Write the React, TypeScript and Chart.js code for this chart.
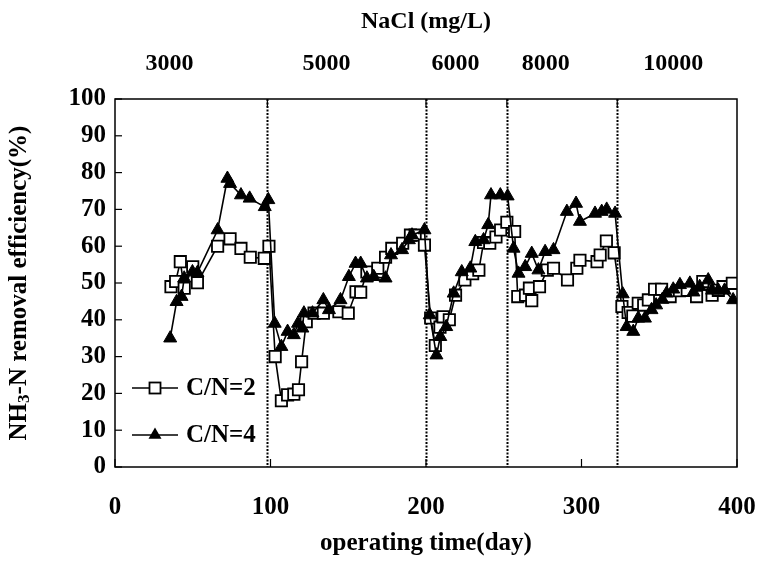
import React, { useEffect, useRef } from "react";
import { Chart, registerables } from "chart.js";

Chart.register(...registerables);

const FONT = '"Liberation Serif", "Times New Roman", serif';

// C/N = 2 (open squares)
const days2 = [36, 39, 42, 44.5, 50, 53, 66, 74, 81, 87, 96, 99,
  103, 107, 111, 115, 118, 120, 123, 128, 134, 144, 150, 155, 158, 162, 169, 174, 178, 185, 190, 193, 199,
  203, 206, 209, 211, 215, 219, 225, 230, 234, 237, 241, 245, 248, 252, 257,
  259, 264, 266.5, 268, 273, 278, 282, 291, 297, 299, 310, 312, 316, 321,
  326, 330, 333, 336.5, 340, 343, 347, 351.5, 357, 363, 368, 374, 378, 384, 388, 391, 397];
const eff2 = [49, 50.4, 55.8, 48.6, 54.4, 50.1, 60, 62, 59.4, 57, 56.7, 60,
  30, 18, 19.6, 19.8, 21, 28.6, 39.5, 41.8, 41.8, 42.2, 41.8, 47.6, 47.5, 53, 54, 57, 59.4, 60.8, 63, 63, 60.3,
  40.5, 33, 38, 40.8, 40, 46.7, 50.8, 52.5, 53.5, 61, 60.8, 62.5, 64.4, 66.5, 64,
  46.3, 46.7, 48.6, 45.2, 49, 53.5, 54, 50.8, 54, 56.2, 55.8, 57.6, 61.4, 58.2,
  43.6, 42, 41, 44.5, 44, 45.4, 48.3, 48.3, 46.3, 47.9, 48, 46.3, 50.4, 46.7, 48, 49, 49.9];

// C/N = 4 (filled triangles)
const days4 = [35.5, 39.6, 42.8, 44.5, 49.8, 53, 66, 72.3, 74, 81, 86.6, 96.3, 98.6,
  102.7, 107, 111, 115, 117.7, 120.5, 121.5, 127, 134, 137.6, 145, 150.4, 154.7, 158, 162, 166.4, 174, 177.5, 184.6, 189, 191, 199,
  202.4, 206.7, 209.2, 213, 217.8, 223, 228.5, 231.7, 237, 240, 241.8, 247.8, 252.5,
  256.3, 259.5, 263.8, 268, 272.3, 276.6, 282, 290.6, 296.5, 299, 308.7, 313, 316.2, 321.6,
  326.5, 329, 333.3, 336.5, 340.8, 345, 348, 352, 354.7, 359, 363.3, 369.7, 372, 376, 381.5, 384, 388, 392, 397.5];
const eff4 = [35, 44.9, 46.3, 51.3, 53, 52.8, 64.4, 78.4, 77, 73.9, 73, 70.7, 72.6,
  39, 32.7, 36.8, 35.9, 39, 37.7, 41.8, 41.8, 45.4, 42.7, 45.4, 51.7, 55.3, 55.3, 51.3, 51.7, 51.3, 57.6, 59, 61.7, 63, 64.4,
  41.3, 30.4, 35.4, 38.1, 47.2, 53, 54, 61.2, 61.7, 65.8, 73.9, 73.9, 73.6,
  59.4, 52.6, 54.4, 58, 53.5, 58.5, 59, 69.4, 71.6, 66.7, 68.9, 69.4, 70, 68.9,
  47, 38.1, 36.8, 40.4, 40.4, 42.7, 44, 45.5, 47.2, 48.3, 49.5, 49.9, 47.5, 49, 50.8, 48, 48, 48, 45.4];

const seriesLabels = ["C/N=2", "C/N=4"];
const xTickValues = [0, 100, 200, 300, 400];
const phaseBoundaries = [98, 200, 252, 323];
const naclLabels = ["3000", "5000", "6000", "8000", "10000"];
const naclLabelDays = [35, 136, 219, 277, 359];
const topTitle = "NaCl (mg/L)";
const xTitle = "operating time(day)";

const framePlugin = {
  id: "framePlugin",
  beforeDatasetsDraw(chart: any) {
    const { ctx, chartArea, scales } = chart;
    ctx.save();
    ctx.strokeStyle = "#000";
    ctx.lineWidth = 2;
    ctx.setLineDash([2, 1.5]);
    phaseBoundaries.forEach((d) => {
      const x = Math.round(scales.x.getPixelForValue(d)) + 0.5;
      ctx.beginPath();
      ctx.moveTo(x, chartArea.top);
      ctx.lineTo(x, chartArea.bottom);
      ctx.stroke();
    });
    ctx.restore();
  },
  afterDraw(chart: any) {
    const { ctx, chartArea, scales } = chart;
    const { left, right, top, bottom } = chartArea;
    ctx.save();
    ctx.strokeStyle = "#000";
    ctx.lineWidth = 1.5;
    ctx.setLineDash([]);
    ctx.strokeRect(left, top, right - left, bottom - top);
    // inner ticks
    ctx.lineWidth = 1.2;
    scales.y.ticks.forEach((t: any) => {
      const y = scales.y.getPixelForValue(t.value);
      ctx.beginPath();
      ctx.moveTo(left, y);
      ctx.lineTo(left + 7, y);
      ctx.stroke();
    });
    xTickValues.forEach((v) => {
      const x = scales.x.getPixelForValue(v);
      ctx.beginPath();
      ctx.moveTo(x, bottom);
      ctx.lineTo(x, bottom - 8);
      ctx.stroke();
    });
    phaseBoundaries.forEach((d) => {
      const x = scales.x.getPixelForValue(d);
      ctx.beginPath();
      ctx.moveTo(x, top);
      ctx.lineTo(x, top + 8);
      ctx.stroke();
    });
    // top labels
    ctx.fillStyle = "#000";
    ctx.textAlign = "center";
    ctx.textBaseline = "middle";
    ctx.font = `bold 24px ${FONT}`;
    ctx.fillText(topTitle, (left + right) / 2, 22);
    naclLabels.forEach((lab, i) => {
      ctx.fillText(lab, scales.x.getPixelForValue(naclLabelDays[i]), 64);
    });
    // y title with subscript
    ctx.save();
    ctx.translate(20, (top + bottom) / 2);
    ctx.rotate(-Math.PI / 2);
    const big = `bold 25px ${FONT}`;
    const small = `bold 17px ${FONT}`;
    const parts = [
      { t: "NH", f: big, dy: 0 },
      { t: "3", f: small, dy: 5 },
      { t: "-N removal efficiency(%)", f: big, dy: 0 },
    ];
    let total = 0;
    parts.forEach((p) => { ctx.font = p.f; total += ctx.measureText(p.t).width; });
    let cx = -total / 2;
    ctx.textAlign = "left";
    parts.forEach((p) => {
      ctx.font = p.f;
      ctx.fillText(p.t, cx, p.dy);
      cx += ctx.measureText(p.t).width;
    });
    ctx.restore();
    // legend
    const legendY = [388, 435];
    chart.data.datasets.forEach((ds: any, i: number) => {
      const y = legendY[i];
      ctx.strokeStyle = "#000";
      ctx.lineWidth = 1.6;
      ctx.beginPath();
      ctx.moveTo(132, y);
      ctx.lineTo(178, y);
      ctx.stroke();
      const mx = 155;
      if (ds.pointStyle === "rect") {
        ctx.fillStyle = "#fff";
        ctx.fillRect(mx - 5.5, y - 5.5, 11, 11);
        ctx.lineWidth = 1.8;
        ctx.strokeRect(mx - 5.5, y - 5.5, 11, 11);
      } else {
        ctx.fillStyle = "#000";
        ctx.beginPath();
        ctx.moveTo(mx, y - 7.5);
        ctx.lineTo(mx + 6.5, y + 3.75);
        ctx.lineTo(mx - 6.5, y + 3.75);
        ctx.closePath();
        ctx.fill();
      }
      ctx.fillStyle = "#000";
      ctx.font = `bold 25px ${FONT}`;
      ctx.textAlign = "left";
      ctx.textBaseline = "middle";
      ctx.fillText(ds.label, 186, y + 1);
    });
    ctx.restore();
  },
};

export default function App() {
  const ref = useRef<HTMLCanvasElement | null>(null);
  useEffect(() => {
    document.body.style.margin = "0";
    const canvas = ref.current;
    if (!canvas) return;
    const tickFont = { family: FONT, size: 25, weight: "bold" as const };
    const chart = new Chart(canvas, {
      type: "line",
      data: {
        datasets: [
          {
            label: seriesLabels[0],
            data: days2.map((d, i) => ({ x: d, y: eff2[i] })),
            borderColor: "#000",
            borderWidth: 1.6,
            pointStyle: "rect",
            pointRadius: 8,
            pointBackgroundColor: "#fff",
            pointBorderColor: "#000",
            pointBorderWidth: 1.8,
            tension: 0,
            order: 1,
          },
          {
            label: seriesLabels[1],
            data: days4.map((d, i) => ({ x: d, y: eff4[i] })),
            borderColor: "#000",
            borderWidth: 1.6,
            pointStyle: "triangle",
            pointRadius: 7.5,
            pointBackgroundColor: "#000",
            pointBorderColor: "#000",
            pointBorderWidth: 1,
            tension: 0,
            order: 0,
          },
        ],
      },
      options: {
        animation: false,
        responsive: false,
        devicePixelRatio: 1,
        layout: { padding: { top: 99, right: 24, left: 0, bottom: 0 } },
        plugins: { legend: { display: false }, tooltip: { enabled: false } },
        scales: {
          x: {
            type: "linear",
            min: 0,
            max: 400,
            afterFit: (s: any) => { s.height = 96; s.paddingLeft = 0; s.paddingRight = 0; },
            afterBuildTicks: (s: any) => { s.ticks = xTickValues.map((v) => ({ value: v })); },
            ticks: { font: tickFont, color: "#000", padding: 26, maxRotation: 0, autoSkip: false },
            grid: { display: false, drawTicks: false },
            border: { display: false },
            title: { display: true, text: xTitle, font: tickFont, color: "#000", padding: { top: 0, bottom: 4 } },
          },
          y: {
            min: 0,
            max: 100,
            afterFit: (s: any) => { s.width = 115; s.paddingTop = 0; s.paddingBottom = 0; },
            ticks: { stepSize: 10, font: tickFont, color: "#000", padding: 9 },
            grid: { display: false, drawTicks: false },
            border: { display: false },
          },
        },
      },
      plugins: [framePlugin],
    } as any);
    return () => chart.destroy();
  }, []);
  return (
    <div style={{ width: 761, height: 563 }}>
      <canvas ref={ref} width={761} height={563} style={{ display: "block", width: 761, height: 563 }} />
    </div>
  );
}
